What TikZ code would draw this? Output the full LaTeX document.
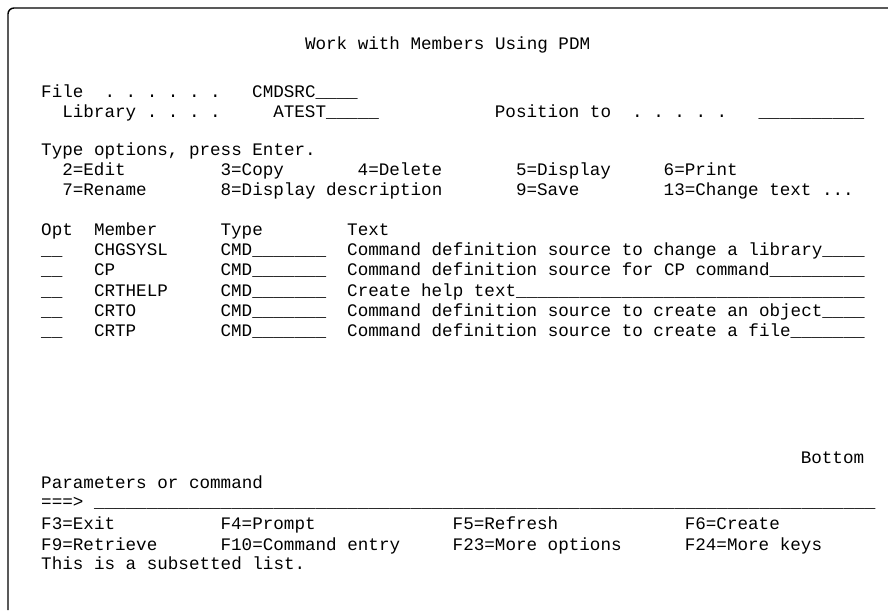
\documentclass[tikz,border=0pt]{standalone}
\usepackage{fontspec}
\setmonofont{Liberation Mono}
\usetikzlibrary{positioning}
\tikzset{
    scr/.style = {anchor=base west, inner sep=0pt, font=\ttfamily\fontsize{17.6}{20}\selectfont},
    border/.style = {line width=1.4pt, rounded corners=6pt}
}
\newcommand\blanks[1]{\foreach\k in {1,...,#1}{\_}}

\begin{document}
\begin{tikzpicture}[x=1pt, y=-1pt]
\useasboundingbox (0,0) rectangle (888,610);

% ---- screen border ----
\draw[border] (888,8) -- (8,8) -- (8,610);

% ---- header ----
\node[scr] (title) at (304.8,49) {Work with Members Using PDM};
\node[scr] (file) at (41,97) {File~~.~.~.~.~.~.};
\node[scr] (filev) at (252,97) {CMDSRC\blanks{4}};
\node[scr] (lib) at (62.1,117) {Library~.~.~.~.};
\node[scr] (libv) at (273.1,117) {ATEST\blanks{5}};
\node[scr] (pos) at (494.7,117) {Position~to~~.~.~.~.~.};
\node[scr] (posv) at (758.4,117) {\blanks{10}};

% ---- options ----
\node[scr] (typeopt) at (41,155) {Type options, press Enter.};
\node[scr] (o2) at (62.1,175) {2=Edit};
\node[scr] (o3) at (220.4,175) {3=Copy};
\node[scr] (o4) at (357.5,175) {4=Delete};
\node[scr] (o5) at (515.8,175) {5=Display};
\node[scr] (o6) at (663.5,175) {6=Print};
\node[scr] (o7) at (62.1,195) {7=Rename};
\node[scr] (o8) at (220.4,195) {8=Display description};
\node[scr] (o9) at (515.8,195) {9=Save};
\node[scr] (o13) at (663.5,195) {13=Change text ...};

% ---- member list ----
\node[scr] (hopt) at (41,235) {Opt};
\node[scr] (hmbr) at (93.8,235) {Member};
\node[scr] (htype) at (220.4,235) {Type};
\node[scr] (htext) at (347,235) {Text};
\foreach \y/\mbr/\txt/\n [count=\r] in {
    255/CHGSYSL/Command definition source to change a library/4,
    275/CP/Command definition source for CP command/9,
    296/CRTHELP/Create help text/33,
    316/CRTO/Command definition source to create an object/4,
    336/CRTP/Command definition source to create a file/7} {
  \node[scr] (opt\r) at (41,\y) {\blanks{2}};
  \node[scr] (mbr\r) at (93.8,\y) {\mbr};
  \node[scr] (type\r) at (220.4,\y) {CMD\blanks{7}};
  \node[scr] (text\r) at (347,\y) {\txt\blanks{\n}};
}

% ---- footer ----
\node[scr] (bottom) at (800.6,463) {Bottom};
\node[scr] (parm) at (41,488) {Parameters or command};
\node[scr] (cmd) at (41,507) {===>};
\node[scr] (cmdv) at (93.8,507) {\blanks{74}};
\node[scr] (f3) at (41,529) {F3=Exit};
\node[scr] (f4) at (220.4,529) {F4=Prompt};
\node[scr] (f5) at (452.5,529) {F5=Refresh};
\node[scr] (f6) at (684.6,529) {F6=Create};
\node[scr] (f9) at (41,550) {F9=Retrieve};
\node[scr] (f10) at (220.4,550) {F10=Command entry};
\node[scr] (f23) at (452.5,550) {F23=More options};
\node[scr] (f24) at (684.6,550) {F24=More keys};
\node[scr] (msg) at (41,569) {This is a subsetted list.};

\end{tikzpicture}
\end{document}
